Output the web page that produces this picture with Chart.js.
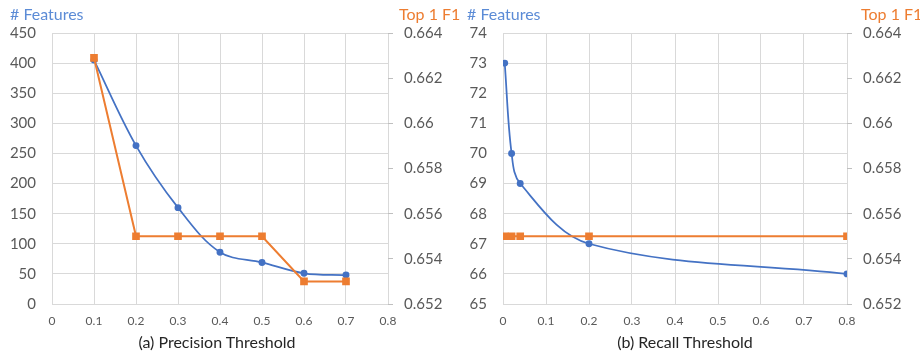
<!DOCTYPE html>
<html>
<head>
<meta charset="utf-8">
<script src="https://cdn.jsdelivr.net/npm/chart.js@4.4.1/dist/chart.umd.min.js"></script>
<style>
    body { margin: 0; background: #fff; font-family: Lato, "Open Sans", sans-serif; }
    .panel { position: absolute; top: 0; width: 460px; height: 354px; overflow: hidden; }
    .lbl { position: absolute; font-size: 16px; line-height: 18px; white-space: nowrap; }
    .xt { position: absolute; top: 333px; width: 300px; text-align: center; font-size: 16px; line-height: 18px; color: #262626; }
</style>
</head>
<body>
<div class="panel" style="left:0">
    <canvas id="precisionChart" width="460" height="354"></canvas>
    <span class="lbl" style="left:10px;top:5px;color:#5b8bd6"># Features</span>
    <span class="lbl" style="left:399px;top:5px;color:#ed7d31">Top 1 F1</span>
    <div class="xt" style="left:67px">(a) Precision Threshold</div>
</div>
<div class="panel" style="left:460px">
    <canvas id="recallChart" width="460" height="354"></canvas>
    <span class="lbl" style="left:7px;top:5px;color:#5b8bd6"># Features</span>
    <span class="lbl" style="left:401px;top:5px;color:#ed7d31">Top 1 F1</span>
    <div class="xt" style="left:75px">(b) Recall Threshold</div>
</div>
<script>
    // (a) precision threshold
    const precisionX = [0.1, 0.2, 0.3, 0.4, 0.5, 0.6, 0.7];
    const precisionFeatures = [405, 263, 160, 86, 69, 51, 48];
    const precisionF1 = [0.6629, 0.655, 0.655, 0.655, 0.655, 0.653, 0.653];

    // (b) recall threshold
    const recallX = [0.004, 0.02, 0.04, 0.2, 0.8];
    const recallFeatures = [73, 70, 69, 67, 66];
    const recallF1 = [0.655, 0.655, 0.655, 0.655, 0.655];

    // axis ranges [min, max, step]
    const thresholdRange = [0, 0.8, 0.1];
    const precisionFeatureRange = [0, 450, 50];
    const recallFeatureRange = [65, 74, 1];
    const f1Range = [0.652, 0.664, 0.002];

    const BLUE = '#4472c4';
    const ORANGE = '#ed7d31';
    const GRID = '#d9d9d9';
    const TEXT = '#595959';

    function toPoints(xs, ys) {
        return xs.map((x, i) => ({ x: x, y: ys[i] }));
    }

    function createChart(canvasId, xs, features, f1, featRange, leftWidth, rightWidth) {
        const canvas = document.getElementById(canvasId);
        new Chart(canvas.getContext('2d'), {
            type: 'line',
            data: {
                datasets: [{
                    label: 'Top 1 F1',
                    data: toPoints(xs, f1),
                    yAxisID: 'y2',
                    borderColor: ORANGE,
                    backgroundColor: ORANGE,
                    borderWidth: 2,
                    pointStyle: 'rect',
                    pointRadius: 4,
                    tension: 0,
                    order: 1
                }, {
                    label: '# Features',
                    data: toPoints(xs, features),
                    yAxisID: 'y',
                    borderColor: BLUE,
                    backgroundColor: BLUE,
                    borderWidth: 1.75,
                    pointRadius: 2.6,
                    tension: 0.35,
                    order: 2
                }]
            },
            options: {
                responsive: false,
                animation: false,
                devicePixelRatio: 1,
                layout: { padding: { top: 33, left: 0, right: 0, bottom: 0 } },
                plugins: { legend: { display: false }, tooltip: { enabled: false } },
                scales: {
                    x: {
                        type: 'linear',
                        min: thresholdRange[0],
                        max: thresholdRange[1],
                        ticks: {
                            stepSize: thresholdRange[2],
                            color: TEXT,
                            font: { family: 'Lato', size: 12 },
                            padding: 10,
                            callback: v => String(+v.toFixed(1))
                        },
                        grid: { color: GRID, drawTicks: false },
                        border: { display: false },
                        afterFit: s => { s.height = 50; }
                    },
                    y: {
                        position: 'left',
                        min: featRange[0],
                        max: featRange[1],
                        ticks: {
                            stepSize: featRange[2],
                            color: TEXT,
                            font: { family: 'Lato', size: 15 },
                            padding: 16
                        },
                        grid: { color: GRID, drawTicks: false },
                        border: { display: false },
                        afterFit: s => { s.width = leftWidth; }
                    },
                    y2: {
                        position: 'right',
                        min: f1Range[0],
                        max: f1Range[1],
                        ticks: {
                            stepSize: f1Range[2],
                            color: TEXT,
                            font: { family: 'Lato', size: 15 },
                            padding: 11,
                            callback: v => String(+v.toFixed(3))
                        },
                        grid: { drawOnChartArea: false, drawTicks: true, tickLength: 5, color: '#bfbfbf' },
                        border: { display: false },
                        afterFit: s => { s.width = rightWidth; }
                    }
                }
            }
        });
    }

    createChart('precisionChart', precisionX, precisionFeatures, precisionF1, precisionFeatureRange, 52, 72);
    createChart('recallChart', recallX, recallFeatures, recallF1, recallFeatureRange, 43, 73);
</script>
</body>
</html>
